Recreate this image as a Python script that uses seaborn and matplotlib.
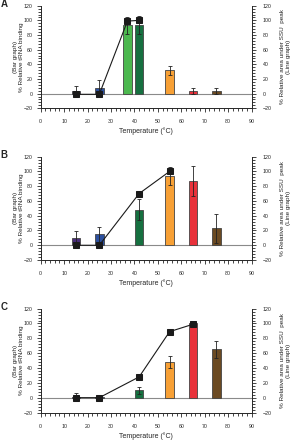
import numpy as np
import pandas as pd
import matplotlib
matplotlib.use('Agg')
import matplotlib.pyplot as plt
from matplotlib.ticker import MultipleLocator
import seaborn as sns

# panel A
a_temp = [15, 25, 37, 42, 55, 65, 75]
a_bind = [4, 7, 93, 94, 32, 4, 3]
a_err = [7, 12, 11, 12, 6, 4, 4]
a_colors = ['#4a2d7a', '#2b4f9e', '#4cb84f', '#167040', '#f7a035', '#e8313a', '#6b4a22']
a_line_x = [15, 25, 37, 42]
a_line_y = [-1, -1, 99, 100]

# panel B
b_temp = [15, 25, 42, 55, 65, 75]
b_bind = [10, 15, 48, 94, 87, 23]
b_err = [9, 10, 14, 12, 20, 20]
b_colors = ['#4a2d7a', '#2b4f9e', '#167040', '#f7a035', '#e8313a', '#6b4a22']
b_line_x = [15, 25, 42, 55]
b_line_y = [0, 0, 70, 100]

# panel C
c_temp = [15, 25, 42, 55, 65, 75]
c_bind = [1, 1, 10, 48, 100, 65]
c_err = [5, 2, 5, 8, 1, 12]
c_colors = b_colors
c_line_x = [15, 25, 42, 55, 65]
c_line_y = [0, 0, 28, 89, 99]

sns.set_style('ticks')
plt.rcParams['font.family'] = ['Liberation Sans', 'DejaVu Sans']

fig = plt.figure(figsize=(2.95, 4.40), dpi=100)


def draw_panel(rect, letter, temps, binding, err, colors, line_x, line_y):
    ax = fig.add_axes(rect)
    df = pd.DataFrame({'temp': temps, 'bind': binding, 'grp': [str(t) for t in temps]})
    gap = min(np.diff(temps))
    ax.plot([0, 90], [0, 0], color='#8a8a8a', lw=0.8, zorder=0.5)
    sns.barplot(data=df, x='temp', y='bind', hue='grp', palette=dict(zip(df.grp, colors)),
                native_scale=True, width=3.7 / gap, dodge=False, errorbar=None,
                saturation=1, legend=False, edgecolor='#444444', linewidth=0.6, ax=ax)
    ax.errorbar(temps, binding, yerr=err, fmt='none', ecolor='#222222',
                elinewidth=0.6, capsize=1.5, capthick=0.6, zorder=3)
    sns.lineplot(x=line_x, y=line_y, ax=ax, color='#1a1a1a', lw=0.8, marker='s',
                 markersize=4.5, markeredgecolor='#1a1a1a', zorder=5)

    ax.set_xlim(0, 90)
    ax.set_ylim(-20, 120)
    ax.xaxis.set_major_locator(MultipleLocator(10))
    ax.xaxis.set_minor_locator(MultipleLocator(2))
    ax.yaxis.set_major_locator(MultipleLocator(20))
    ax.yaxis.set_minor_locator(MultipleLocator(4))
    ax.xaxis.set_major_formatter(matplotlib.ticker.FormatStrFormatter('%d'))
    for s in ['top', 'right']:
        ax.spines[s].set_visible(False)
    for s in ['left', 'bottom']:
        ax.spines[s].set_linewidth(0.7)
    ax.tick_params(axis='both', which='major', length=3, width=0.6, labelsize=3.8)
    ax.tick_params(axis='both', which='minor', length=2, width=0.6)
    ax.tick_params(axis='x', pad=5)
    ax.tick_params(axis='y', pad=3)
    ax.set_xlabel('Temperature (°C)', fontsize=5)
    ax.xaxis.set_label_coords(0.5, -0.19)
    ax.set_ylabel('(Bar graph)\n% Relative tRNA binding', fontsize=4.6, linespacing=1.3)
    ax.yaxis.set_label_coords(-0.078, 0.5)

    ax2 = ax.twinx()
    ax2.set_ylim(-20, 120)
    ax2.yaxis.set_major_locator(MultipleLocator(20))
    ax2.yaxis.set_minor_locator(MultipleLocator(4))
    for s in ['top', 'left', 'bottom']:
        ax2.spines[s].set_visible(False)
    ax2.spines['right'].set_linewidth(0.7)
    ax2.tick_params(axis='y', which='major', length=3, width=0.6, labelsize=3.8, pad=5)
    ax2.tick_params(axis='y', which='minor', length=2, width=0.6)
    ax2.set_ylabel('% Relative area under SSU  peak\n(Line graph)', fontsize=4.6, linespacing=1.3)
    ax2.yaxis.set_label_coords(1.135, 0.5)

    ax.text(-0.175, 1.02, letter, transform=ax.transAxes, fontsize=7, fontweight='bold',
            ha='center', va='center')
    return ax


draw_panel([0.138, 0.754, 0.715, 0.233], 'A', a_temp, a_bind, a_err, a_colors, a_line_x, a_line_y)
draw_panel([0.138, 0.409, 0.715, 0.235], 'B', b_temp, b_bind, b_err, b_colors, b_line_x, b_line_y)
draw_panel([0.138, 0.0625, 0.715, 0.236], 'C', c_temp, c_bind, c_err, c_colors, c_line_x, c_line_y)

fig.savefig('out.png', dpi=100)
